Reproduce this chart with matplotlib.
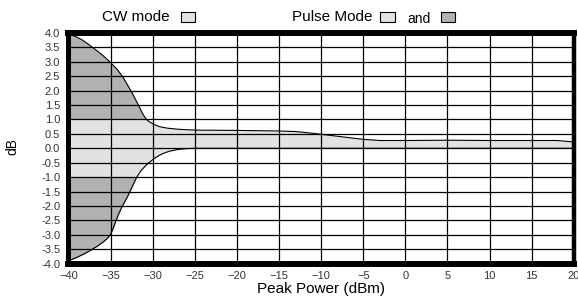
import numpy as np
import matplotlib
matplotlib.use("Agg")
import matplotlib.pyplot as plt
from matplotlib.patches import Rectangle

plt.rcParams['font.family'] = ['Liberation Sans', 'DejaVu Sans']

# upper and lower limit curves (dB vs peak power dBm)
x_upper = [-40, -39.2, -38.4, -37.6, -36.8, -36, -35.1, -34.3, -33.6, -33, -32.5, -32.1, -31.7, -31.2, -30.75,
           -30.3, -29.8, -29.2, -28.3, -27, -25, -20, -15, -13, -11, -9, -7, -5, -3, 0, 5, 10, 15, 18, 20]
y_upper = [3.95, 3.88, 3.76, 3.6, 3.42, 3.24, 3.0, 2.76, 2.5, 2.2, 1.95, 1.72, 1.5, 1.2, 1.0,
           0.9, 0.82, 0.75, 0.7, 0.66, 0.63, 0.62, 0.6, 0.58, 0.52, 0.45, 0.38, 0.31, 0.27, 0.27, 0.28, 0.27, 0.27, 0.27, 0.22]
x_lower = [-40, -39, -38, -37.3, -36.5, -35.8, -35.3, -35, -34.7, -34.4, -34, -33.6, -33.1, -32.7, -32.3, -31.9,
           -31.4, -30.9, -30.45, -29.8, -29.2, -28.6, -28, -27, -26, -25, -20, -15, -10, -5, 0, 5, 10, 15, 20]
y_lower = [-3.9, -3.78, -3.64, -3.52, -3.38, -3.23, -3.1, -2.98, -2.78, -2.54, -2.25, -2.0, -1.74, -1.5, -1.25, -1.0,
           -0.78, -0.62, -0.5, -0.35, -0.24, -0.16, -0.1, -0.04, -0.01, 0.0, 0.0, 0.0, 0.0, 0.0, 0.0, 0.0, 0.0, 0.0, 0.0]

x_ticks = list(range(-40, 21, 5))
y_ticks = [v / 2 for v in range(-8, 9)]

light = '#e2e2e2'
dark = '#b2b2b2'

fig = plt.figure(figsize=(5.78, 2.96), dpi=100)
ax = fig.add_axes([0.1185, 0.1091, 0.8742, 0.7798])

xs = np.linspace(-40, 20, 1200)
up = np.interp(xs, x_upper, y_upper)
lo = np.interp(xs, x_lower, y_lower)

ax.fill_between(xs, np.maximum(lo, -1), np.minimum(up, 1), color=light, lw=0, zorder=1)
ax.fill_between(xs, 1, up, where=up > 1, color=dark, lw=0, zorder=1, interpolate=True)
ax.fill_between(xs, lo, -1, where=lo < -1, color=dark, lw=0, zorder=1, interpolate=True)

ax.plot(x_upper, y_upper, color='black', lw=0.8, zorder=3)
ax.plot(x_lower, y_lower, color='black', lw=0.8, zorder=3)

ax.set_xlim(-40, 20)
ax.set_ylim(-4, 4)
ax.set_xticks(x_ticks)
ax.set_yticks(y_ticks)
ax.set_yticklabels([f'{v:.1f}' for v in y_ticks])
ax.grid(True, color='black', lw=0.9, zorder=2)
ax.set_axisbelow(False)
ax.tick_params(length=0, labelsize=8, colors='#333333')
ax.tick_params(axis='x', pad=5)
ax.tick_params(axis='y', pad=6)
for name, w in [('top', 4.3), ('bottom', 4.3), ('left', 3.6), ('right', 3.2)]:
    ax.spines[name].set_linewidth(w)
    ax.spines[name].set_zorder(4)

fig.text(0.5554, 0.024, 'Peak Power (dBm)', fontsize=11, ha='center', va='center')
fig.text(0.022, 0.505, 'dB', fontsize=10, rotation=90, ha='center', va='center')

# legend-like header
fig.text(0.2353, 0.943, 'CW mode', fontsize=11, ha='center', va='center')
fig.text(0.505, 0.943, 'Pulse Mode', fontsize=11, ha='left', va='center')
fig.text(0.704, 0.937, 'and', fontsize=10, ha='left', va='center')
for xb, col in [(0.313, light), (0.658, light), (0.763, dark)]:
    fig.add_artist(Rectangle((xb, 0.924), 0.025, 0.036, transform=fig.transFigure,
                             facecolor=col, edgecolor='black', lw=0.8))

fig.savefig('out.png', dpi=100, facecolor='white')
